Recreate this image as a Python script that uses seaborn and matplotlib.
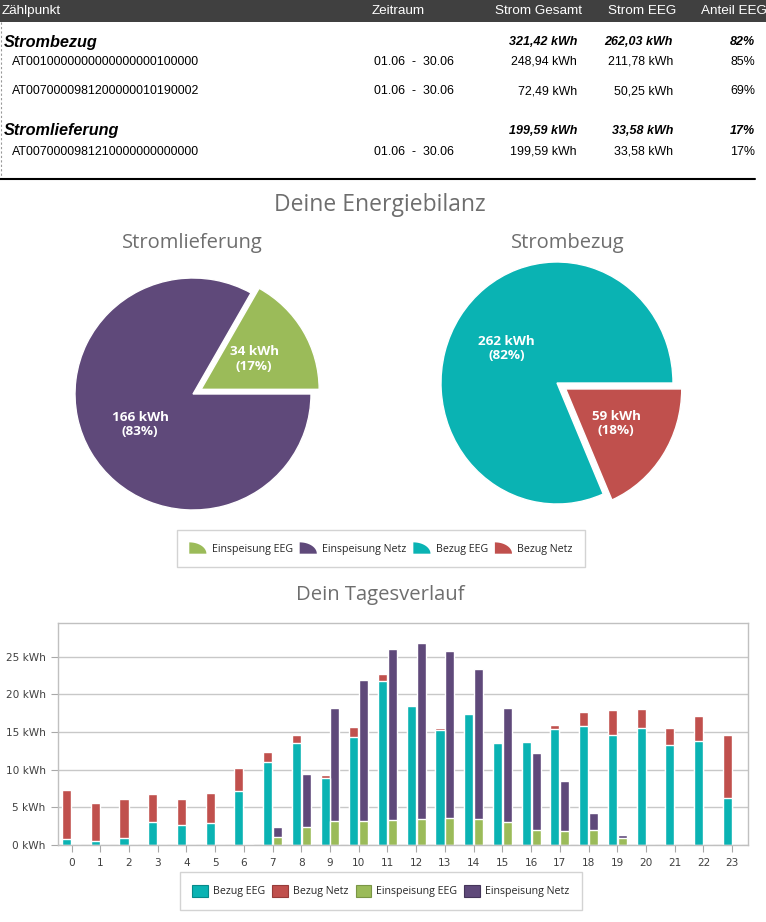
import numpy as np
import pandas as pd
import seaborn as sns
import matplotlib.pyplot as plt
from matplotlib.patches import Rectangle, Polygon, Patch
from matplotlib.legend_handler import HandlerPatch
from matplotlib.ticker import MultipleLocator, AutoMinorLocator

# --- table data ---
zaehlpunkte = ["AT0010000000000000000100000",
               "AT0070000981200000010190002",
               "AT0070000981210000000000000"]
zeitraum = ["01.06  -  30.06", "01.06  -  30.06", "01.06  -  30.06"]
strom_gesamt = [248.94, 72.49, 199.59]
strom_eeg = [211.78, 50.25, 33.58]
bezug_gesamt = 321.42
bezug_eeg_sum = 262.03
lieferung_gesamt = 199.59
lieferung_eeg_sum = 33.58

# --- pies ---
lieferung_labels = ["Einspeisung EEG", "Einspeisung Netz"]
lieferung_vals = [33.58, 166.01]
bezug_labels = ["Bezug EEG", "Bezug Netz"]
bezug_vals = [262.03, 59.39]

# --- daily profile (kWh per hour of day) ---
stunden = list(range(24))
bezug_eeg = [0.85, 0.58, 0.98, 3.1, 2.7, 2.97, 7.24, 11.06, 13.59, 8.93, 14.3, 21.85,
             18.52, 15.32, 17.45, 13.54, 13.72, 15.45, 15.85, 14.65, 15.59, 13.32, 13.85, 6.26]
bezug_netz = [6.48, 5.02, 5.15, 3.7, 3.43, 3.96, 3.02, 1.33, 1.06, 0.4, 1.42, 0.93,
              0.13, 0.27, 0.13, 0.18, 0.13, 0.54, 1.87, 3.33, 2.53, 2.27, 3.33, 8.39]
einsp_eeg = [0, 0, 0, 0, 0, 0, 0.1, 1.07, 2.4, 3.2, 3.2, 3.33,
             3.46, 3.6, 3.46, 3.06, 2.0, 1.87, 2.0, 0.93, 0, 0, 0, 0]
einsp_netz = [0, 0, 0, 0, 0, 0, 0.2, 1.33, 7.06, 15.05, 18.78, 22.77,
              23.44, 22.24, 19.99, 15.19, 10.26, 6.66, 2.26, 0.4, 0, 0, 0, 0]

TEAL = "#0AB3B3"
RED = "#C0504D"
GREEN = "#9BBB59"
PURPLE = "#5F497A"

sns.set_theme(style="white")
plt.rcParams['font.family'] = ['DejaVu Sans']

W, H = 766, 922
fig = plt.figure(figsize=(W / 100, H / 100), dpi=100)


def rect(x0, y0, x1, y1):
    return [x0 / W, 1 - y1 / H, (x1 - x0) / W, (y1 - y0) / H]


def kwh(v):
    return f"{v:.2f}".replace(".", ",") + " kWh"


# ---------------- table ----------------
ax_t = fig.add_axes(rect(0, 0, W, 185))
ax_t.set_xlim(0, W)
ax_t.set_ylim(185, 0)
ax_t.axis("off")
ax_t.add_patch(Rectangle((0, 0), W, 22, color="#404040", lw=0))
tf = dict(family="Liberation Sans", va="center")
hdr = dict(color="white", fontsize=9.7, **tf)
ax_t.text(2, 11, "Zählpunkt", ha="left", **hdr)
ax_t.text(372, 11, "Zeitraum", ha="left", **hdr)
ax_t.text(582, 11, "Strom Gesamt", ha="right", **hdr)
ax_t.text(676, 11, "Strom EEG", ha="right", **hdr)
ax_t.text(767, 11, "Anteil EEG", ha="right", **hdr)

sec = dict(fontsize=11.7, fontweight="bold", style="italic", color="black", **tf)
tot = dict(fontsize=9, fontweight="bold", style="italic", color="black", **tf)
row = dict(fontsize=8.9, color="black", **tf)

sections = [("Strombezug", 42, bezug_gesamt, bezug_eeg_sum, [(0, 62), (1, 91)]),
            ("Stromlieferung", 131, lieferung_gesamt, lieferung_eeg_sum, [(2, 152)])]
for name, y, g, e, rows in sections:
    ax_t.text(4, y, name, ha="left", **sec)
    ax_t.text(577, y, kwh(g), ha="right", **tot)
    ax_t.text(673, y, kwh(e), ha="right", **tot)
    ax_t.text(755, y, f"{round(100 * e / g):.0f}%", ha="right", **tot)
    for i, yy in rows:
        ax_t.text(12, yy, zaehlpunkte[i], ha="left", **row)
        ax_t.text(374, yy, zeitraum[i], ha="left", **row)
        ax_t.text(577, yy, kwh(strom_gesamt[i]), ha="right", **row)
        ax_t.text(673, yy, kwh(strom_eeg[i]), ha="right", **row)
        ax_t.text(755, yy, f"{round(100 * strom_eeg[i] / strom_gesamt[i]):.0f}%", ha="right", **row)
ax_t.plot([0.8, 0.8], [22, 179], color="#999999", ls=(0, (2, 2)), lw=0.8)
ax_t.plot([0, 755], [179, 179], color="black", lw=1.5)

# ---------------- titles ----------------
title_kw = dict(ha="center", va="center", color="#6e6e6e", family="Open Sans")
fig.text(380 / W, 1 - 205 / H, "Deine Energiebilanz", fontsize=16.5, **title_kw)
fig.text(192 / W, 1 - 243 / H, "Stromlieferung", fontsize=14.5, **title_kw)
fig.text(568 / W, 1 - 243 / H, "Strombezug", fontsize=14.5, **title_kw)
fig.text(380 / W, 1 - 595 / H, "Dein Tagesverlauf", fontsize=14.6, **title_kw)


# ---------------- pies ----------------
def draw_pie(cx, cy, rx, ry, vals, colors, explode):
    m = 1.3
    ax = fig.add_axes(rect(cx - m * rx, cy - m * ry, cx + m * rx, cy + m * ry))
    total = sum(vals)
    ax.pie(vals, colors=colors, explode=explode, startangle=0, counterclock=True,
           autopct=lambda p: f"{p * total / 100:.0f} kWh\n({p:.0f}%)", pctdistance=0.52,
           textprops=dict(color="white", fontsize=9.7, fontweight="bold", family="Open Sans",
                          linespacing=1.15))
    ax.set_aspect("auto")
    ax.set_xlim(-m, m)
    ax.set_ylim(-m, m)
    ax.axis("off")


draw_pie(193, 394, 118, 116, lieferung_vals, [GREEN, PURPLE], [0.08, 0])
draw_pie(557, 383, 116, 121, bezug_vals, [TEAL, RED], [0, 0.09])


class QuarterHandler(HandlerPatch):
    def create_artists(self, legend, orig_handle, xdescent, ydescent, width, height, fontsize, trans):
        t = np.linspace(0, np.pi / 2, 30)
        x0, y0 = -xdescent, -ydescent
        pts = [(x0, y0)] + list(zip(x0 + width * np.cos(t), y0 + height * np.sin(t)))
        return [Polygon(pts, closed=True, facecolor=orig_handle.get_facecolor(),
                        edgecolor="none", transform=trans)]


leg_kw = dict(loc="center", ncol=4, frameon=True, fancybox=False,
              prop=dict(family="Open Sans", size=7.7), borderpad=1.15, handletextpad=0.5,
              columnspacing=0.65, edgecolor="#c8c8c8")
pie_handles = [Patch(facecolor=c) for c in [GREEN, PURPLE, TEAL, RED]]
leg1 = fig.legend(pie_handles, lieferung_labels + bezug_labels,
                  bbox_to_anchor=(381 / W, 1 - 548.5 / H), handlelength=1.6, handleheight=1.25,
                  handler_map={Patch: QuarterHandler()}, **leg_kw)
leg1.get_frame().set_linewidth(1)

# ---------------- bar chart ----------------
df = pd.DataFrame({
    "Stunde": stunden * 2,
    "Art": ["Bezug"] * 24 + ["Einspeisung"] * 24,
    "EEG": bezug_eeg + einsp_eeg,
    "Netz": bezug_netz + einsp_netz,
})
df["Gesamt"] = df["EEG"] + df["Netz"]

ax_b = fig.add_axes(rect(58, 623, 748, 845))
bar_kw = dict(data=df, x="Stunde", hue="Art", hue_order=["Bezug", "Einspeisung"],
              width=0.686, gap=0.08, saturation=1, legend=False, errorbar=None, ax=ax_b)
sns.barplot(y="Gesamt", palette=[RED, PURPLE], **bar_kw)
sns.barplot(y="EEG", palette=[TEAL, GREEN], **bar_kw)

ax_b.set_xlim(-0.47, 23.55)
ax_b.set_ylim(0, 29.5)
yt = [0, 5, 10, 15, 20, 25]
ax_b.set_yticks(yt)
ax_b.set_yticklabels([f"{v} kWh" for v in yt])
ax_b.yaxis.set_minor_locator(AutoMinorLocator(3))
ax_b.xaxis.set_minor_locator(MultipleLocator(0.2))
ax_b.set_xlabel("")
ax_b.set_ylabel("")
ax_b.grid(axis="y", which="major", color="#c8c8c8", lw=1)
ax_b.set_axisbelow(True)
for s in ax_b.spines.values():
    s.set_color("#c0c0c0")
    s.set_linewidth(1)
ax_b.tick_params(axis="both", which="both", direction="out", color="#a8a8a8",
                 labelcolor="#404040", labelsize=7.6)
ax_b.tick_params(axis="both", which="major", length=5, width=0.8, pad=4)
ax_b.tick_params(axis="both", which="minor", length=3, width=0.6)
ax_b.tick_params(axis="x", bottom=True, top=False)
ax_b.tick_params(axis="y", left=True, right=False)

bar_handles = [Patch(facecolor=c, edgecolor=ec, lw=0.8) for c, ec in
               [(TEAL, "#078a8a"), (RED, "#963c3a"), (GREEN, "#7a9646"), (PURPLE, "#45355a")]]
leg2 = fig.legend(bar_handles, ["Bezug EEG", "Bezug Netz", "Einspeisung EEG", "Einspeisung Netz"],
                  bbox_to_anchor=(381 / W, 1 - 891 / H), handlelength=1.45, handleheight=1.45,
                  **leg_kw)
leg2.get_frame().set_linewidth(1)

fig.savefig("out.png", dpi=100)
